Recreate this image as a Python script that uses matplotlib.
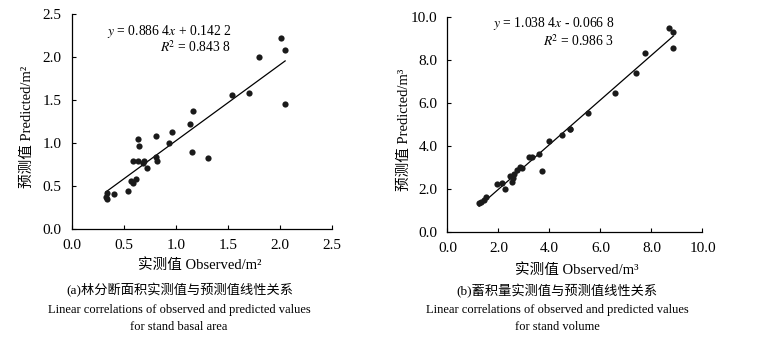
import numpy as np
import matplotlib
matplotlib.use("Agg")
import matplotlib.pyplot as plt

plt.rcParams['font.family'] = ['Liberation Serif', 'Noto Sans CJK SC']
plt.rcParams['mathtext.fontset'] = 'stix'

# (a) stand basal area, m2
obs_a = [2.01, 2.05, 1.80, 1.54, 1.70, 2.05, 1.17, 1.14, 0.96, 0.94, 0.81, 0.64,
         0.65, 1.16, 1.31, 0.81, 0.82, 0.59, 0.64, 0.70, 0.69, 0.72, 0.57, 0.62,
         0.59, 0.54, 0.41, 0.34, 0.33, 0.34]
pred_a = [2.23, 2.09, 2.00, 1.56, 1.59, 1.46, 1.38, 1.22, 1.13, 1.00, 1.09, 1.05,
          0.97, 0.90, 0.83, 0.84, 0.79, 0.80, 0.79, 0.79, 0.77, 0.71, 0.56, 0.59,
          0.54, 0.44, 0.41, 0.42, 0.38, 0.35]
slope_a, icpt_a = 0.8864, 0.1422

# (b) stand volume, m3
obs_b = [8.67, 8.86, 8.86, 7.75, 7.39, 6.56, 5.50, 4.82, 4.79, 4.50, 3.99, 3.57,
         3.69, 3.18, 3.33, 2.94, 2.84, 2.73, 2.60, 2.55, 2.44, 2.52, 2.24, 2.13,
         1.95, 1.53, 1.44, 1.31, 1.24]
pred_b = [9.49, 9.34, 8.56, 8.33, 7.41, 6.48, 5.56, 4.83, 4.80, 4.51, 4.24, 3.66,
          2.84, 3.52, 3.52, 2.98, 3.04, 2.89, 2.70, 2.52, 2.61, 2.35, 2.01, 2.31,
          2.25, 1.67, 1.53, 1.40, 1.36]
slope_b, icpt_b = 1.0384, -0.0668

W, H = 764, 341
fig = plt.figure(figsize=(W / 100, H / 100), dpi=100)


def px(x, y):
    return x / W, 1 - y / H


def panel(rect, xo, yo, k, b, lim, ticks, fmt):
    ax = fig.add_axes(rect)
    ax.scatter(xo, yo, s=20, color='#1a1a1a', zorder=3, linewidths=0)
    xs = np.array([min(xo), max(xo)])
    ax.plot(xs, k * xs + b, color='black', lw=0.9)
    ax.set_xlim(0, lim)
    ax.set_ylim(0, lim)
    ax.set_xticks(ticks)
    ax.set_yticks(ticks)
    ax.set_xticklabels([fmt % t for t in ticks])
    ax.set_yticklabels([fmt % t for t in ticks])
    for s in ['top', 'right']:
        ax.spines[s].set_visible(False)
    for s in ['left', 'bottom']:
        ax.spines[s].set_linewidth(0.9)
    ax.tick_params(direction='in', length=3, width=0.8, labelsize=11, pad=7)
    return ax


ticks_a = [0.0, 0.5, 1.0, 1.5, 2.0, 2.5]
ticks_b = [0.0, 2.0, 4.0, 6.0, 8.0, 10.0]
panel([0.0936, 0.3276, 0.341, 0.630], obs_a, pred_a, slope_a, icpt_a, 2.5, ticks_a, '%.1f')
panel([0.5857, 0.3182, 0.3338, 0.631], obs_b, pred_b, slope_b, icpt_b, 10.0, ticks_b, '%.1f')

# regression equations
fig.text(*px(231, 31), r'$y$ = 0.886 4$x$ + 0.142 2', ha='right', va='center', fontsize=9.8)
fig.text(*px(231, 47), r'$R$$^2$ = 0.843 8', ha='right', va='center', fontsize=9.8)
fig.text(*px(614, 24), r'$y$ = 1.038 4$x$ - 0.066 8', ha='right', va='center', fontsize=9.8)
fig.text(*px(614, 41), r'$R$$^2$ = 0.986 3', ha='right', va='center', fontsize=9.8)

# axis labels
fig.text(*px(200, 265), '实测值 Observed/m²', ha='center', va='center', fontsize=10.5)
fig.text(*px(577, 270), '实测值 Observed/m³', ha='center', va='center', fontsize=10.5)
fig.text(*px(27, 127), '预测值 Predicted/m²', ha='center', va='center', fontsize=10.5, rotation=90)
fig.text(*px(404, 130), '预测值 Predicted/m³', ha='center', va='center', fontsize=10.5, rotation=90)

# captions
fig.text(*px(180, 290), '(a)林分断面积实测值与预测值线性关系', ha='center', va='center', fontsize=9.5)
fig.text(*px(179, 310), 'Linear correlations of observed and predicted values', ha='center', va='center', fontsize=9)
fig.text(*px(179, 327), 'for stand basal area', ha='center', va='center', fontsize=9)
fig.text(*px(557, 291), '(b)蓄积量实测值与预测值线性关系', ha='center', va='center', fontsize=9.5)
fig.text(*px(557, 310), 'Linear correlations of observed and predicted values', ha='center', va='center', fontsize=9)
fig.text(*px(557, 327), 'for stand volume', ha='center', va='center', fontsize=9)

fig.savefig('out.png', dpi=100)
